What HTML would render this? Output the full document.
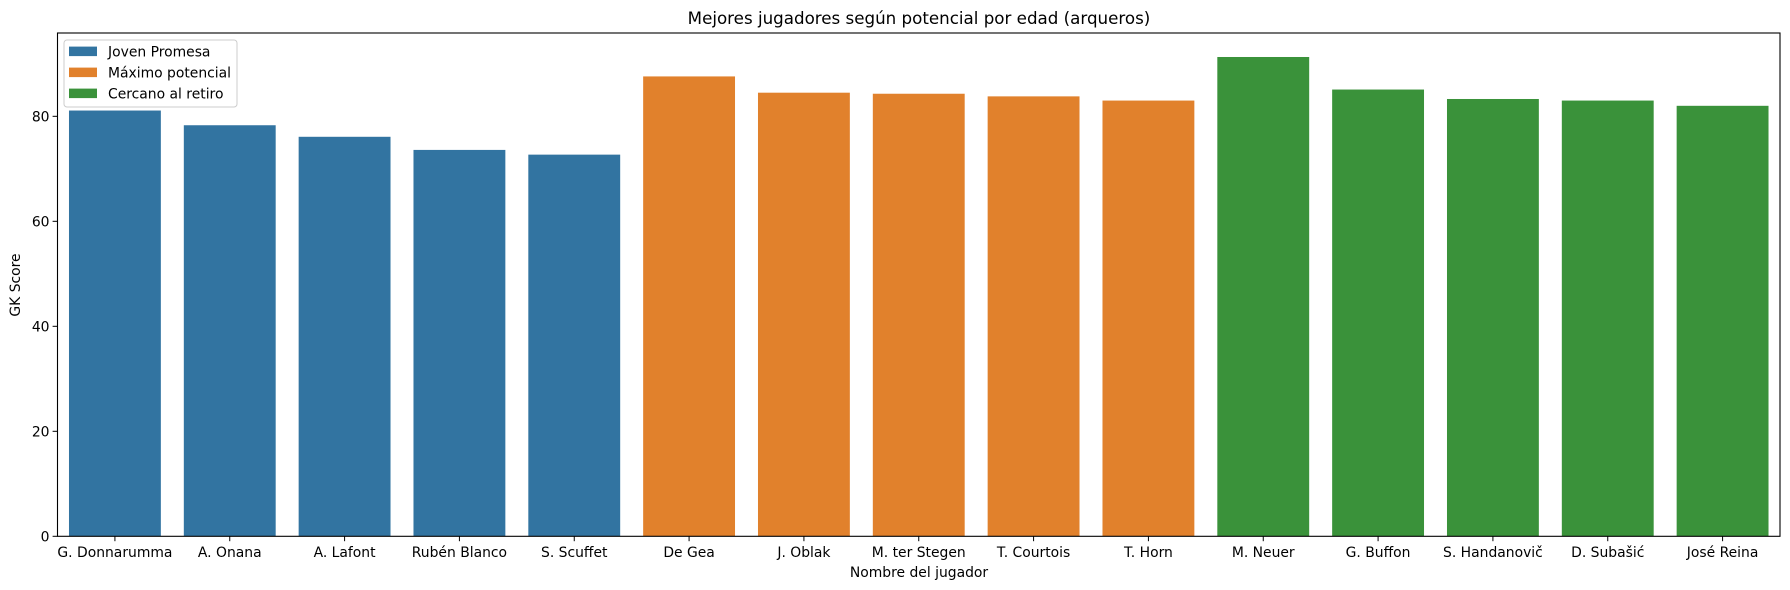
<!DOCTYPE html>
<html><head><meta charset="utf-8"><style>
html,body{margin:0;padding:0;background:#fff;}
svg{display:block;font-family:"DejaVu Sans","Liberation Sans",sans-serif;}
</style></head><body>
<svg id="chart" width="1790" height="590" viewBox="0 0 1790 590" xmlns="http://www.w3.org/2000/svg">
<text x="919" y="24" text-anchor="middle" font-size="16.7" fill="#000">Mejores jugadores según potencial por edad (arqueros)</text>
<g id="bars"></g>
<g id="yticks"></g>
<g id="xticks"></g>
<rect x="57.5" y="33" width="1722.5" height="503.3" fill="none" stroke="#000" stroke-width="1.1"/>
<text x="919" y="577" text-anchor="middle" font-size="13.9" fill="#000">Nombre del jugador</text>
<text transform="translate(20,285) rotate(-90)" text-anchor="middle" font-size="13.9" fill="#000">GK Score</text>
<g>
<rect x="64" y="40" width="173" height="67" rx="3" fill="#fff" fill-opacity="0.8" stroke="#ccc"/>
<g><rect x="69" y="46.6" width="28" height="9.5" fill="#3274a1"/><text x="108" y="56.3" font-size="13.9">Joven Promesa</text></g>
<g><rect x="69" y="67.6" width="28" height="9.5" fill="#e1812c"/><text x="108" y="77.3" font-size="13.9">Máximo potencial</text></g>
<g><rect x="69" y="88.6" width="28" height="9.5" fill="#3a923a"/><text x="108" y="98.3" font-size="13.9">Cercano al retiro</text></g>
</g>
</svg>
<script>
const players = ["G. Donnarumma","A. Onana","A. Lafont","Rubén Blanco","S. Scuffet","De Gea","J. Oblak","M. ter Stegen","T. Courtois","T. Horn","M. Neuer","G. Buffon","S. Handanovič","D. Subašić","José Reina"];
const scores = [81.1,78.3,76.1,73.6,72.7,87.6,84.5,84.3,83.8,83.0,91.3,85.1,83.3,83.0,82.0];
const groups = [0,0,0,0,0,1,1,1,1,1,2,2,2,2,2];
const yTicks = [0,20,40,60,80];
const colors = ["#3274a1","#e1812c","#3a923a"];
const NS = "http://www.w3.org/2000/svg";
const L = 57.5, R = 1780, T = 33, B = 536.3, YMAX = 95.87;
function yScale(v){ return B - (v / YMAX) * (B - T); }
const band = (R - L) / players.length;
function xCenter(i){ return L + band * (i + 0.5); }
const bars = document.getElementById('bars');
const xt = document.getElementById('xticks');
const yt = document.getElementById('yticks');
players.forEach((p, i) => {
  const r = document.createElementNS(NS, 'rect');
  const w = band * 0.8;
  r.setAttribute('x', xCenter(i) - w / 2);
  r.setAttribute('y', yScale(scores[i]));
  r.setAttribute('width', w);
  r.setAttribute('height', B - yScale(scores[i]));
  r.setAttribute('fill', colors[groups[i]]);
  
  
  bars.appendChild(r);
  const tk = document.createElementNS(NS, 'line');
  tk.setAttribute('x1', xCenter(i)); tk.setAttribute('x2', xCenter(i));
  tk.setAttribute('y1', B); tk.setAttribute('y2', B + 4.9);
  tk.setAttribute('stroke', '#000');
  
  
  xt.appendChild(tk);
  const t = document.createElementNS(NS, 'text');
  t.setAttribute('x', xCenter(i)); t.setAttribute('y', B + 20.5);
  t.setAttribute('text-anchor', 'middle'); t.setAttribute('font-size', '13.9');
  t.textContent = p;
  
  
  xt.appendChild(t);
});
yTicks.forEach(v => {
  const tk = document.createElementNS(NS, 'line');
  tk.setAttribute('x1', L - 4.9); tk.setAttribute('x2', L);
  tk.setAttribute('y1', yScale(v)); tk.setAttribute('y2', yScale(v));
  tk.setAttribute('stroke', '#000');
  
  
  yt.appendChild(tk);
  const t = document.createElementNS(NS, 'text');
  t.setAttribute('x', L - 8); t.setAttribute('y', yScale(v) + 5);
  t.setAttribute('text-anchor', 'end'); t.setAttribute('font-size', '13.9');
  t.textContent = v;
  
  
  yt.appendChild(t);
});
</script>
</body></html>
